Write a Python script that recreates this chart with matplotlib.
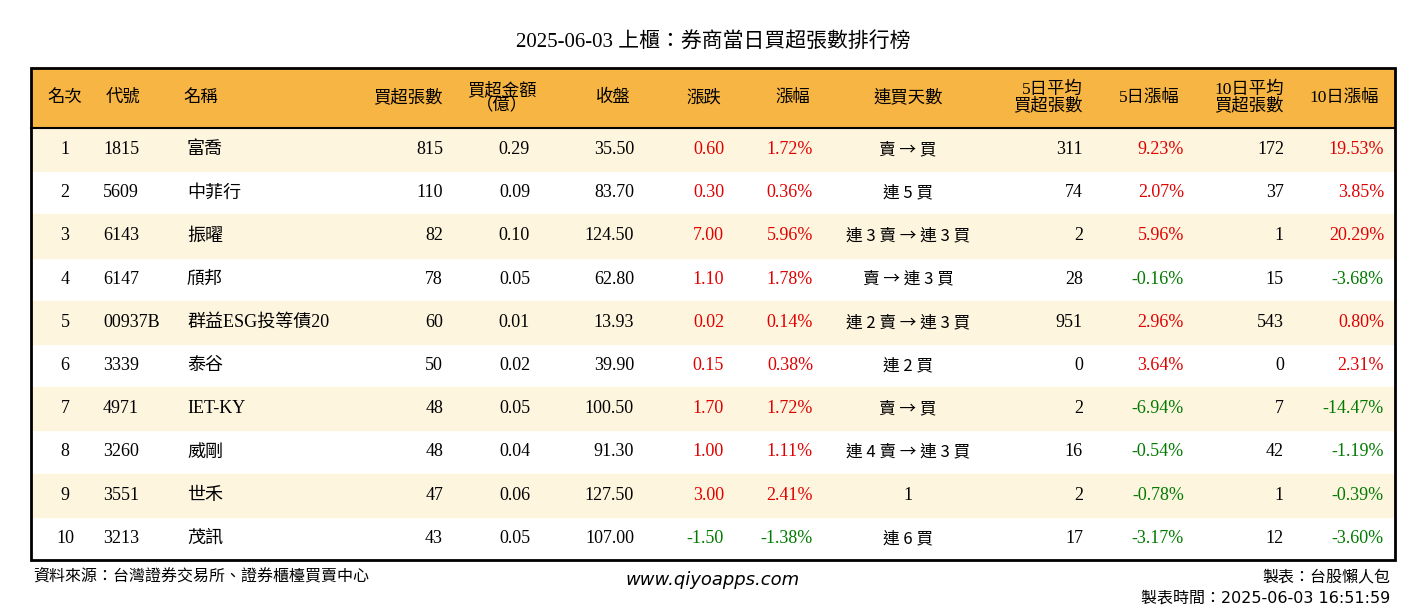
import matplotlib
matplotlib.use("Agg")
import matplotlib.pyplot as plt
from matplotlib.patches import Rectangle

title = "2025-06-03 上櫃：券商當日買超張數排行榜"
headers = ["名次", "代號", "名稱", "買超張數", "買超金額\n（億）", "收盤", "漲跌", "漲幅", "連買天數",
           "5日平均\n買超張數", "5日漲幅", "10日平均\n買超張數", "10日漲幅"]
ranks = ["1", "2", "3", "4", "5", "6", "7", "8", "9", "10"]
codes = ["1815", "5609", "6143", "6147", "00937B", "3339", "4971", "3260", "3551", "3213"]
names = ["富喬", "中菲行", "振曜", "頎邦", "群益ESG投等債20", "泰谷", "IET-KY", "威剛", "世禾", "茂訊"]
net_buy = [815, 110, 82, 78, 60, 50, 48, 48, 47, 43]
amount = [0.29, 0.09, 0.10, 0.05, 0.01, 0.02, 0.05, 0.04, 0.06, 0.05]
close = [35.50, 83.70, 124.50, 62.80, 13.93, 39.90, 100.50, 91.30, 127.50, 107.00]
change = [0.60, 0.30, 7.00, 1.10, 0.02, 0.15, 1.70, 1.00, 3.00, -1.50]
pct = [1.72, 0.36, 5.96, 1.78, 0.14, 0.38, 1.72, 1.11, 2.41, -1.38]
streak = ["賣 → 買", "連 5 買", "連 3 賣 → 連 3 買", "賣 → 連 3 買", "連 2 賣 → 連 3 買",
          "連 2 買", "賣 → 買", "連 4 賣 → 連 3 買", "1", "連 6 買"]
avg5 = [311, 74, 2, 28, 951, 0, 2, 16, 2, 17]
pct5 = [9.23, 2.07, 5.96, -0.16, 2.96, 3.64, -6.94, -0.54, -0.78, -3.17]
avg10 = [172, 37, 1, 15, 543, 0, 7, 42, 1, 12]
pct10 = [19.53, 3.85, 20.29, -3.68, 0.80, 2.31, -14.47, -1.19, -0.39, -3.60]

FONT = ["Liberation Serif", "Noto Sans CJK TC"]
STREAK_FONT = ["Noto Sans CJK TC"]
RED, GREEN = "#E00000", "#007A00"

fig = plt.figure(figsize=(14.26, 6.12), dpi=100)
ax = fig.add_axes([0, 0, 1, 1])
ax.set_xlim(0, 1426); ax.set_ylim(612, 0); ax.axis("off")

L, R, T, HB, B = 31, 1395, 68, 128, 560
rh = (B - HB) / len(ranks)
ax.add_patch(Rectangle((L, T), R - L, HB - T, color="#F7B544", zorder=0))
for i in range(len(ranks)):
    if i % 2 == 0:
        ax.add_patch(Rectangle((L, HB + i * rh), R - L, rh, color="#FEF5DF", zorder=0))
ax.add_patch(Rectangle((L, T), R - L, B - T, fill=False, ec="black", lw=2, zorder=3))
ax.plot([L, R], [HB, HB], color="black", lw=1.5, zorder=3)

ax.text(713, 42, title, ha="center", va="center", fontsize=15, fontfamily=FONT)

cols = [(65, "center"), (103, "left"), (187, "left"), (443, "right"), (530, "right"), (634, "right"),
        (724, "right"), (813, "right"), (908, "center"), (1083, "right"), (1184, "right"),
        (1284, "right"), (1384, "right")]
hdr = [(65, "center"), (123, "center"), (201, "center"), (443, "right"), (502, "center"),
       (613, "center"), (704, "center"), (793, "center"), (908, "center"), (1083, "right"),
       (1149, "center"), (1284, "right"), (1344, "center")]
hy = (T + HB) / 2
for h, (x, ha) in zip(headers, hdr):
    ax.text(x, hy, h, ha=ha, va="center", fontsize=12.5, fontfamily=FONT, linespacing=0.9)

def col(v):
    return RED if v > 0 else (GREEN if v < 0 else "black")

for i in range(len(ranks)):
    y = HB + (i + 0.5) * rh
    cells = [(ranks[i], "black"), (codes[i], "black"), (names[i], "black"),
             (f"{net_buy[i]}", "black"), (f"{amount[i]:.2f}", "black"), (f"{close[i]:.2f}", "black"),
             (f"{change[i]:.2f}", col(change[i])), (f"{pct[i]:.2f}%", col(pct[i])),
             (streak[i], "black"), (f"{avg5[i]}", "black"), (f"{pct5[i]:.2f}%", col(pct5[i])),
             (f"{avg10[i]}", "black"), (f"{pct10[i]:.2f}%", col(pct10[i]))]
    for j, ((txt, c), (x, a)) in enumerate(zip(cells, cols)):
        fam = STREAK_FONT if (j == 8 and txt != "1") else FONT
        fs = 12 if j == 8 and txt != "1" else 13
        ax.text(x, y, txt, ha=a, va="center", fontsize=fs, color=c, fontfamily=fam)

ax.text(33, 577, "資料來源：台灣證券交易所、證券櫃檯買賣中心", ha="left", va="center", fontsize=11.5, fontfamily=FONT)
ax.text(713, 580, "www.qiyoapps.com", ha="center", va="center", fontsize=13, style="italic", fontfamily="DejaVu Sans")
ax.text(1390, 577, "製表：台股懶人包", ha="right", va="center", fontsize=11.5, fontfamily=FONT)
ax.text(1390, 598, "製表時間：2025-06-03 16:51:59", ha="right", va="center", fontsize=11.5, fontfamily=["DejaVu Sans", "Noto Sans CJK TC"])

fig.savefig("out.png", dpi=100)
